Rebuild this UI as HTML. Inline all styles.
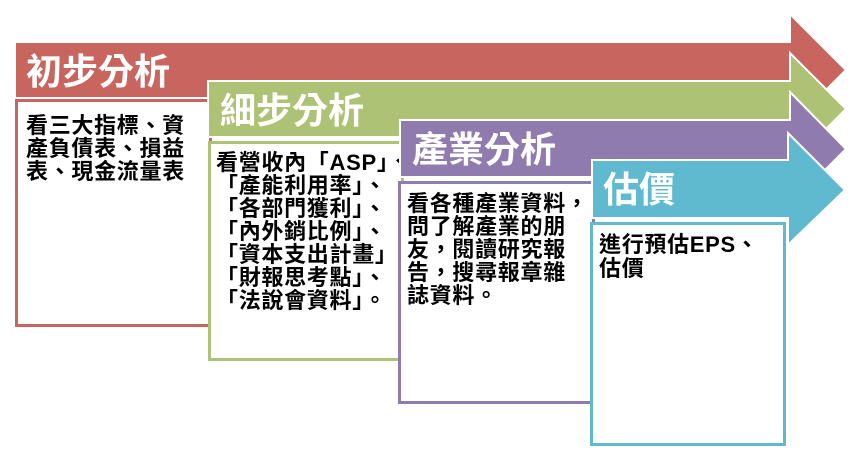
<!DOCTYPE html>
<html><head><meta charset="utf-8"><style>
html,body{margin:0;padding:0;background:#fff;}
svg{display:block;}
text{font-family:"Liberation Sans","Noto Sans CJK TC",sans-serif;font-weight:bold;}
.t{fill:#fff;font-size:36px;}
.b{fill:#000;font-size:22px;letter-spacing:0.7px;}
</style></head><body>
<svg width="862" height="454" viewBox="0 0 862 454" xmlns="http://www.w3.org/2000/svg">
<!-- red -->
<polygon points="15,42 790,42 790,14 846,70 790,126 790,98 15,98" fill="#C9655F" stroke="#fff" stroke-width="2"/>
<text class="t" x="26" y="84">初步分析</text>
<rect x="16.5" y="100.5" width="194" height="225" fill="#fff" stroke="#C9655F" stroke-width="3"/>
<text class="b" x="26" y="133">看三大指標、資</text>
<text class="b" x="26" y="156">產負債表、損益</text>
<text class="b" x="26" y="179">表、現金流量表</text>
<!-- green -->
<polygon points="208,81 790,81 790,53 846,109 790,165 790,137 208,137" fill="#ADC274" stroke="#fff" stroke-width="2"/>
<text class="t" x="220" y="123">細步分析</text>
<rect x="209.5" y="142.5" width="193" height="217" fill="#fff" stroke="#ADC274" stroke-width="3"/>
<text class="b" x="216" y="170">看營收內「ASP」、</text>
<text class="b" x="216" y="193">「產能利用率」、</text>
<text class="b" x="216" y="216">「各部門獲利」、</text>
<text class="b" x="216" y="239">「內外銷比例」、</text>
<text class="b" x="216" y="262">「資本支出計畫」</text>
<text class="b" x="216" y="285">「財報思考點」、</text>
<text class="b" x="216" y="308">「法說會資料」。</text>
<!-- purple -->
<polygon points="400,120 790,120 790,92 846,149 790,205 790,177 400,177" fill="#907BAF" stroke="#fff" stroke-width="2"/>
<text class="t" x="412" y="162">產業分析</text>
<rect x="399.5" y="182.5" width="194" height="220" fill="#fff" stroke="#907BAF" stroke-width="3"/>
<text class="b" x="407" y="211">看各種產業資料，</text>
<text class="b" x="407" y="234">問了解產業的朋</text>
<text class="b" x="407" y="257">友，閱讀研究報</text>
<text class="b" x="407" y="280">告，搜尋報章雜</text>
<text class="b" x="407" y="303">誌資料。</text>
<!-- cyan -->
<polygon points="592,160 788,160 788,133 845,190 788,245 788,218 592,218" fill="#5FB9CF" stroke="#fff" stroke-width="2"/>
<text class="t" x="603" y="202">估價</text>
<rect x="591.5" y="223.5" width="193" height="221" fill="#fff" stroke="#5FB9CF" stroke-width="3"/>
<text class="b" x="599" y="252">進行預估EPS、</text>
<text class="b" x="599" y="276">估價</text>
</svg>
</body></html>
